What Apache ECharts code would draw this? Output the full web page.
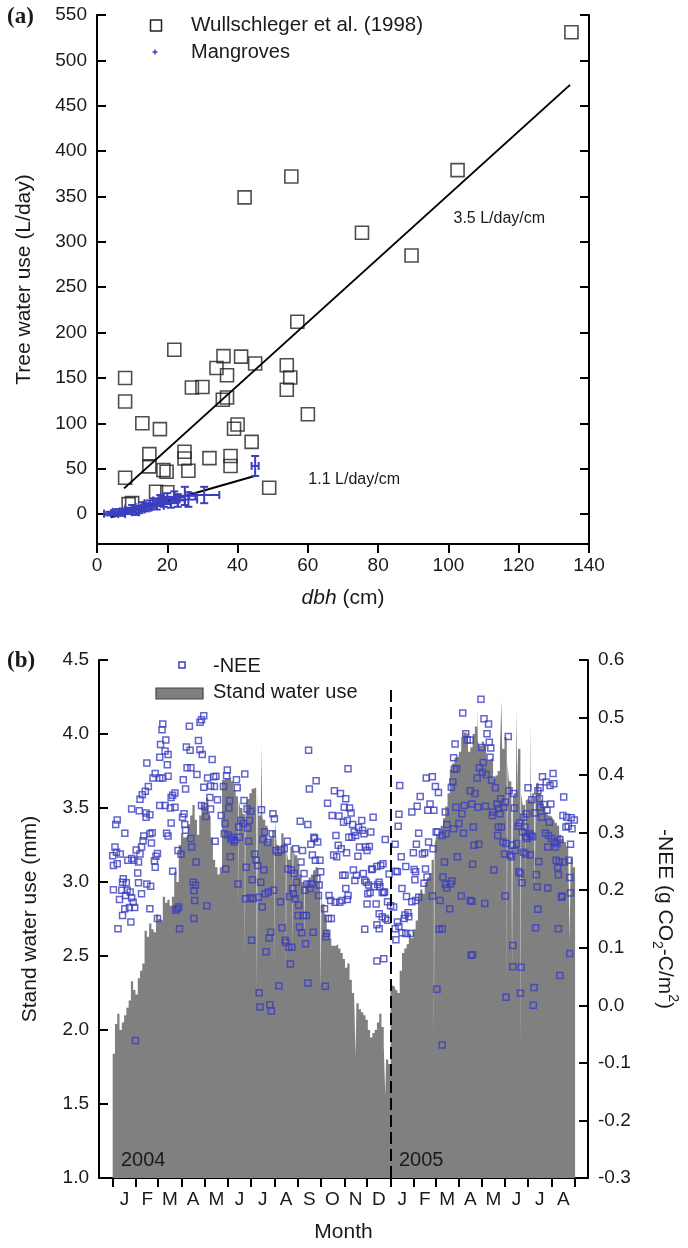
<!DOCTYPE html>
<html><head><meta charset="utf-8">
<script src="https://cdn.jsdelivr.net/npm/echarts@6/dist/echarts.min.js"></script>
<style>html,body{margin:0;padding:0;background:#fff}#c{width:688px;height:1248px}</style>
</head><body><div id="c"></div>
<script>
// ---------- Panel (a) data ----------
const wullschleger = [[135,531],[102.6,379],[75.4,310],[89.5,285],[55.3,372],[42,349],[57,212],[22,181],[36,174],[41,173.5],[34,161],[37,153],[45,166],[54,164],[55,150.5],[54,137],[8,150],[8,124],[12.9,100],[17.9,93.6],[27,139.5],[30,140],[35.8,126],[37,128.5],[40,98.7],[39,94],[44,79.6],[60,110],[49,29],[14.9,66],[14.9,52.5],[8,40],[18.9,48.4],[19.8,46.6],[24.9,68.6],[24.9,61.3],[26,47.7],[32,61.6],[38,64],[38,53],[16.8,24.6],[20,24],[9,11],[10,12]];
// [dbh, water use, dbh error, water-use error]
const mangroves = [[3.5,0.5,1.5,2],[5,1,1,2],[6,2.5,1.5,3],[7,0,1,2],[8,3,1.5,3],[9,4,1,3],[10,6,2,4],[11,2,1,3],[12,5,1.5,4],[13,8,2,5],[14,7,1.5,4],[15,10,2,5],[16,12,2.5,5],[17,9,2,4],[18,15,2,6],[19,13,2,5],[20,17,2.5,6],[21,12,2,5],[22,19,3,6],[23,15,2,7],[25,20,3,10],[26,16,2.5,8],[30.5,21,4.3,9],[45,53,1,11]];
const fitWull = [[7.7,28.3],[134.6,473]];
const fitMang = [[3.9,-3.6],[45.1,42.2]];
const ticksA = [0,50,100,150,200,250,300,350,400,450,500,550];

// ---------- Panel (b) data ----------
const monthStarts = [0,31,60,91,121,152,182,213,244,274,305,335,366,397,425,456,486,517,547,578,609];
const monthLetters = ['J','F','M','A','M','J','J','A','S','O','N','D','J','F','M','A','M','J','J','A'];
// stand water use (mm), one value per 3 days starting 1 Jan 2004 (day 0)
const swuStep = 3;
const swuValues = [
1.84,2.04,2.11,2.0,2.05,2.1,2.15,2.2,2.33,2.27,2.24,2.35,2.4,2.45,2.67,2.63,2.72,2.68,2.66,2.78,
2.75,2.74,2.9,2.86,2.88,2.84,2.9,3.07,3.0,3.25,3.33,3.3,3.31,3.39,3.45,3.52,3.42,3.32,3.45,3.52,
3.51,3.57,3.45,3.3,3.15,3.1,3.05,3.1,
3.69,3.7,3.7,3.71,3.68,3.62,3.58,3.55,3.5,3.46,3.5,3.56,3.6,3.63,3.64,3.6,3.45,3.45,3.42,3.38,
3.28,3.3,3.35,3.42,3.25,3.2,3.33,3.26,3.22,3.15,3.24,3.22,3.18,3.12,3.05,3.0,2.99,3.01,3.03,3.05,
3.08,3.1,3.0,2.94,2.85,2.78,2.68,2.62,2.57,2.57,2.58,2.55,2.52,2.48,2.42,
2.45,2.34,2.25,2.22,2.18,2.14,2.12,2.1,2.07,2.0,1.95,1.98,2.0,2.05,2.11,2.02,1.9,1.8,1.77,2.3,
2.29,2.27,2.25,2.4,2.52,2.55,2.58,2.65,2.62,2.68,2.74,2.92,2.95,2.92,3.0,3.03,3.06,3.15,3.25,3.31,
3.31,3.38,3.43,3.51,3.6,3.76,3.8,3.84,3.85,3.88,3.98,4.01,4.0,3.88,
3.91,4.0,4.05,3.95,3.92,3.95,3.93,3.82,3.83,3.84,3.7,3.72,3.75,3.9,3.9,3.98,3.8,3.68,3.56,3.6,
3.6,3.9,3.6,3.52,3.55,3.56,3.55,3.6,3.62,3.67,3.6,3.55,3.51,3.47,3.45,3.44,3.42,3.4,3.38,3.32,
3.29,3.27,3.24,3.2,3.16,3.1];
// single days that stand out (tall spikes / white dips): [day, mm]
const swuSingleDays = [[196,3.92],[480,4.18],[512,4.23],[532,4.18],[550,4.09],
[165,2.8],[174,2.45],[190,2.29],[213,2.4],[228,2.38],[237,2.5],[252,2.58],[274,2.29],[320,1.82],[359,1.55],[423,1.91],
[519,2.29],[526,2.4],[537,1.83],[543,3.0],[556,2.9],[602,2.6]];
const swuLastDay = 609;
// year boundary (dashed line): day, and its extent in mm on the left axis
const yearBoundary = { day: 366, from: 1.0, to: 4.33 };
// -NEE (g CO2-C/m2): [day since 1 Jan 2004, value]
const neePoints = [
[120,.503],[117,.496],[115,.492],[66,.489],[65,.479],[101,.485],[70,.461],[63,.453],[113,.460],[97,.449],[102,.443],[115,.444],[118,.436],[62,.431],[73,.436],[69,.442],[131,.427],[45,.421],[72,.418],[98,.413],[103,.413],[111,.401],[56,.403],[53,.395],[62,.395],[66,.395],[73,.398],[93,.392],[125,.395],[133,.397],[136,.398],[47,.380],[96,.376],[120,.379],[129,.381],[134,.380],[43,.372],[39,.366],[79,.365],[82,.369],[77,.361],[128,.361],[138,.357],[36,.358],[25,.341],[35,.338],[44,.334],[49,.331],[62,.347],[69,.347],[76,.343],[82,.344],[117,.347],[121,.345],[129,.341],[44,.327],[94,.333],[92,.327],[6,.322],[4,.314],[77,.317],[95,.314],[123,.328],[52,.300],[49,.298],[41,.294],[71,.299],[73,.294],[96,.304],[16,.299],[40,.286],[51,.282],[38,.275],[3,.275],[5,.266],[10,.263],[0,.260],[1,.243],[6,.246],[31,.270],[36,.263],[25,.255],[28,.252],[20,.252],[34,.249],[86,.269],[90,.263],[104,.275],[103,.290],[59,.264],[57,.259],[55,.251],[56,.240],[135,.285],[110,.249],[33,.230],[79,.233],[14,.220],[13,.214],[18,.213],[34,.213],[45,.211],[50,.207],[1,.201],[12,.200],[19,.200],[23,.197],[38,.194],[106,.214],[109,.209],[107,.199],[9,.184],[17,.191],[25,.187],[27,.179],[29,.170],[22,.170],[16,.168],[108,.182],[49,.168],[87,.171],[85,.168],[83,.165],[124,.173],[13,.156],[59,.151],[107,.151],[24,.145],[7,.133],[88,.133],[30,-.061],
[258,.443],[151,.409],[150,.399],[174,.402],[163,.392],[164,.378],[268,.390],[259,.376],[292,.373],[300,.368],[283,.351],[305,.344],[146,.380],[154,.356],[153,.343],[143,.330],[148,.316],[173,.356],[177,.341],[182,.337],[196,.340],[211,.333],[213,.324],[247,.320],[257,.314],[289,.330],[298,.329],[304,.318],[169,.321],[166,.310],[172,.316],[180,.321],[178,.308],[147,.298],[152,.296],[157,.292],[161,.287],[156,.288],[160,.284],[167,.292],[179,.285],[200,.301],[210,.298],[204,.283],[198,.288],[215,.269],[218,.266],[222,.270],[226,.272],[230,.285],[241,.272],[250,.269],[265,.292],[270,.284],[261,.280],[266,.290],[294,.295],[297,.278],[301,.272],[295,.258],[291,.261],[155,.258],[149,.237],[187,.263],[189,.252],[191,.243],[199,.235],[248,.249],[263,.261],[267,.252],[273,.252],[176,.240],[165,.211],[184,.218],[195,.214],[212,.200],[205,.197],[201,.194],[235,.235],[239,.229],[242,.214],[237,.203],[231,.237],[252,.229],[256,.211],[262,.211],[272,.209],[274,.232],[269,.220],[303,.226],[175,.185],[181,.187],[185,.185],[192,.188],[197,.171],[221,.180],[233,.189],[238,.194],[240,.185],[245,.174],[244,.156],[251,.156],[255,.156],[253,.200],[260,.203],[271,.191],[285,.191],[287,.182],[293,.179],[299,.179],[302,.182],[279,.168],[284,.151],[288,.151],[282,.125],[281,.119],[183,.113],[208,.127],[206,.117],[202,.093],[223,.135],[227,.113],[228,.109],[232,.101],[236,.101],[246,.136],[249,.126],[254,.107],[264,.127],[234,.072],[193,.022],[219,.034],[257,.039],[280,.033],[194,-.003],[207,.001],[209,-.010],
[461,.508],[465,.472],[467,.461],[451,.454],[449,.430],[453,.411],[450,.410],[310,.411],[413,.395],[421,.397],[425,.380],[429,.370],[448,.388],[446,.379],[378,.382],[405,.363],[401,.346],[394,.336],[418,.350],[415,.339],[423,.339],[307,.359],[312,.343],[314,.334],[309,.321],[316,.314],[318,.301],[315,.292],[311,.292],[328,.321],[324,.309],[343,.327],[377,.332],[376,.311],[372,.280],[329,.304],[331,.298],[338,.276],[335,.269],[340,.301],[320,.295],[438,.336],[452,.344],[463,.347],[460,.333],[456,.316],[462,.299],[449,.307],[440,.314],[434,.295],[439,.298],[426,.301],[428,.301],[403,.299],[400,.280],[416,.284],[422,.272],[396,.265],[408,.263],[411,.265],[359,.288],[356,.246],[353,.243],[348,.241],[342,.237],[341,.236],[308,.265],[325,.275],[323,.259],[333,.275],[380,.258],[386,.241],[397,.236],[399,.232],[412,.237],[414,.223],[317,.235],[321,.226],[332,.217],[334,.214],[337,.209],[344,.206],[349,.210],[352,.206],[355,.196],[364,.228],[373,.233],[375,.232],[306,.226],[309,.184],[319,.217],[330,.229],[336,.194],[339,.196],[351,.214],[357,.196],[358,.197],[362,.180],[366,.173],[370,.171],[381,.203],[387,.189],[398,.218],[410,.212],[399,.182],[394,.180],[403,.188],[421,.190],[431,.182],[435,.223],[438,.210],[440,.204],[445,.211],[447,.216],[459,.190],[471,.182],[335,.176],[347,.176],[351,.159],[355,.154],[359,.151],[362,.148],[385,.157],[390,.154],[389,.161],[384,.151],[381,.126],[386,.125],[392,.125],[375,.145],[372,.133],[373,.114],[377,.137],[348,.140],[351,.133],[332,.132],[444,.168],[454,.258],[437,.249],[434,.133],[430,.132],[472,.087],[348,.077],[357,.081],[427,.028],[434,-.069],[310,.191],[307,.203],
[485,.532],[489,.498],[495,.489],[521,.467],[493,.472],[496,.457],[486,.448],[498,.447],[497,.431],[488,.422],[483,.413],[487,.405],[492,.401],[480,.395],[499,.391],[504,.378],[471,.461],[580,.403],[566,.397],[571,.388],[563,.378],[576,.382],[581,.385],[547,.378],[560,.373],[522,.373],[528,.368],[511,.359],[552,.357],[594,.362],[562,.359],[471,.373],[477,.368],[473,.350],[481,.344],[491,.346],[506,.350],[508,.342],[515,.344],[517,.353],[529,.343],[501,.336],[500,.330],[510,.333],[568,.349],[577,.350],[563,.344],[572,.339],[556,.334],[565,.327],[575,.318],[541,.327],[545,.333],[536,.317],[543,.310],[540,.301],[549,.298],[551,.295],[544,.293],[546,.290],[553,.293],[593,.330],[598,.327],[604,.326],[608,.322],[597,.310],[600,.311],[605,.307],[475,.310],[508,.310],[512,.310],[507,.295],[514,.284],[518,.281],[516,.263],[523,.261],[534,.311],[532,.281],[530,.269],[526,.278],[525,.258],[541,.266],[544,.263],[550,.261],[570,.299],[574,.295],[578,.290],[582,.284],[585,.281],[589,.288],[583,.275],[573,.275],[561,.250],[584,.252],[588,.249],[595,.249],[601,.252],[603,.280],[476,.278],[482,.280],[474,.245],[502,.235],[535,.232],[537,.229],[539,.213],[586,.240],[587,.227],[602,.222],[558,.227],[559,.206],[573,.204],[517,.190],[591,.188],[592,.190],[603,.195],[473,.181],[490,.177],[560,.167],[557,.135],[587,.133],[474,.088],[527,.104],[602,.090],[527,.067],[538,.066],[589,.052],[518,.014],[537,.021],[555,.031],[554,.000]
];

// ---------- build ----------
const FONT = 'Liberation Sans, Arial, sans-serif';
const BLUE = '#3b3fbf';
const GRAY = '#808080';
const INK = '#1a1a1a';

const monthMids = monthStarts.slice(0, -1).map((s, i) => (s + monthStarts[i + 1]) / 2);
const singleMap = {};
swuSingleDays.forEach(d => { singleMap[d[0]] = d[1]; });
const swuSeries = [];
for (let d = 0; d < swuLastDay; d++) {
  const v = singleMap[d] !== undefined ? singleMap[d] : swuValues[Math.min(Math.floor(d / swuStep), swuValues.length - 1)];
  swuSeries.push([d, v]);
}
swuSeries.push([swuLastDay, swuValues[swuValues.length - 1]]);

const axisLine = { show: true, onZero: false, lineStyle: { color: '#000', width: 2 } };
const lab = { fontSize: 19, color: INK, fontFamily: FONT };

const chart = echarts.init(document.getElementById('c'));
chart.setOption({
  animation: false,
  backgroundColor: '#fff',
  grid: [
    { left: 97, top: 15, width: 492, height: 529 },
    { left: 99, top: 660, width: 491, height: 518 }
  ],
  xAxis: [
    { gridIndex: 0, type: 'value', min: 0, max: 140, interval: 20,
      axisLine, axisTick: { length: 9, lineStyle: { width: 2, color: '#000' } },
      axisLabel: Object.assign({ margin: 12 }, lab), splitLine: { show: false },
      name: '{i|dbh} (cm)', nameLocation: 'middle', nameGap: 44,
      nameTextStyle: { fontSize: 21, color: INK, fontFamily: FONT,
        rich: { i: { fontStyle: 'italic', fontSize: 21, color: INK, fontFamily: FONT } } } },
    { gridIndex: 1, type: 'value', min: -18, max: 626,
      axisLine, axisTick: { length: 9, customValues: monthStarts, lineStyle: { width: 2, color: '#000' } },
      axisLabel: Object.assign({ margin: 12, customValues: monthMids,
        formatter: v => { const i = monthMids.findIndex(m => Math.abs(m - v) < 0.01); return i >= 0 ? monthLetters[i] : ''; } }, lab),
      splitLine: { show: false },
      name: 'Month', nameLocation: 'middle', nameGap: 44,
      nameTextStyle: { fontSize: 21, color: INK, fontFamily: FONT } }
  ],
  yAxis: [
    { gridIndex: 0, type: 'value', min: -33, max: 550,
      axisLine, axisTick: { inside: true, length: 9, customValues: ticksA, lineStyle: { width: 2, color: '#000' } },
      axisLabel: Object.assign({ margin: 10, customValues: ticksA }, lab), splitLine: { show: false },
      name: 'Tree water use (L/day)', nameLocation: 'middle', nameGap: 62,
      nameTextStyle: { fontSize: 21, color: INK, fontFamily: FONT } },
    { gridIndex: 0, type: 'value', position: 'right', min: -33, max: 550,
      axisLine, axisTick: { inside: true, length: 9, customValues: ticksA, lineStyle: { width: 2, color: '#000' } },
      axisLabel: { show: false }, splitLine: { show: false } },
    { gridIndex: 1, type: 'value', min: 1, max: 4.5, interval: 0.5,
      axisLine, axisTick: { inside: true, length: 9, lineStyle: { width: 2, color: '#000' } },
      axisLabel: Object.assign({ margin: 10, formatter: v => v.toFixed(1) }, lab), splitLine: { show: false },
      name: 'Stand water use (mm)', nameLocation: 'middle', nameGap: 58,
      nameTextStyle: { fontSize: 21, color: INK, fontFamily: FONT } },
    { gridIndex: 1, type: 'value', position: 'right', min: -0.3, max: 0.6, interval: 0.1,
      axisLine, axisTick: { inside: true, length: 9, lineStyle: { width: 2, color: '#000' } },
      axisLabel: Object.assign({ margin: 10, formatter: v => v.toFixed(1) }, lab), splitLine: { show: false },
      name: '{n|-NEE (g CO}{sub|2}{n|-C/m}{sup|2}{n|)}', nameLocation: 'middle', nameGap: 62, nameRotate: -90,
      nameTextStyle: { fontSize: 21, color: INK, fontFamily: FONT,
        rich: {
          n: { fontSize: 21, color: INK, fontFamily: FONT, lineHeight: 30, verticalAlign: 'middle' },
          sub: { fontSize: 14, color: INK, fontFamily: FONT, lineHeight: 14, verticalAlign: 'bottom' },
          sup: { fontSize: 14, color: INK, fontFamily: FONT, lineHeight: 14, verticalAlign: 'top' }
        } } }
  ],
  series: [
    { type: 'line', xAxisIndex: 0, yAxisIndex: 0, data: fitWull, symbol: 'none',
      lineStyle: { color: '#000', width: 2 }, z: 3,
      markPoint: { symbol: 'circle', symbolSize: 1, itemStyle: { color: 'rgba(0,0,0,0)' },
        label: { show: true, position: 'right', distance: 0, formatter: '3.5 L/day/cm', fontSize: 16, color: INK, fontFamily: FONT },
        data: [{ coord: [101.3, 326] }] } },
    { type: 'line', xAxisIndex: 0, yAxisIndex: 0, data: fitMang, symbol: 'none',
      lineStyle: { color: '#000', width: 2 }, z: 4,
      markPoint: { symbol: 'circle', symbolSize: 1, itemStyle: { color: 'rgba(0,0,0,0)' },
        label: { show: true, position: 'right', distance: 0, formatter: '1.1 L/day/cm', fontSize: 16, color: INK, fontFamily: FONT },
        data: [{ coord: [60, 37.8] }] } },
    { type: 'scatter', xAxisIndex: 0, yAxisIndex: 0, data: wullschleger, symbol: 'rect', symbolSize: 13,
      itemStyle: { color: 'rgba(255,255,255,0)', borderColor: '#222', borderWidth: 1.6 }, z: 2 },
    { type: 'custom', xAxisIndex: 0, yAxisIndex: 0, data: mangroves, encode: { x: 0, y: 1 }, z: 5,
      renderItem: (params, api) => {
        const x = api.value(0), y = api.value(1), ex = api.value(2), ey = api.value(3);
        const c = api.coord([x, y]), l = api.coord([x - ex, y]), r = api.coord([x + ex, y]);
        const t = api.coord([x, y + ey]), b = api.coord([x, y - ey]);
        const cap = 4, st = { stroke: BLUE, lineWidth: 2 };
        const ln = (x1, y1, x2, y2) => ({ type: 'line', shape: { x1, y1, x2, y2 }, style: st });
        return { type: 'group', children: [
          ln(l[0], c[1], r[0], c[1]), ln(l[0], c[1] - cap, l[0], c[1] + cap), ln(r[0], c[1] - cap, r[0], c[1] + cap),
          ln(c[0], t[1], c[0], b[1]), ln(c[0] - cap, t[1], c[0] + cap, t[1]), ln(c[0] - cap, b[1], c[0] + cap, b[1])
        ] };
      } },
    { type: 'line', xAxisIndex: 1, yAxisIndex: 2, data: swuSeries, step: 'end', symbol: 'none',
      lineStyle: { width: 0, color: GRAY }, areaStyle: { color: GRAY, opacity: 1, origin: 'start' }, z: 1,
      markLine: { silent: true, symbol: ['none', 'none'], label: { show: false },
        lineStyle: { color: '#000', width: 2, type: [12, 5] },
        data: [[{ coord: [yearBoundary.day, yearBoundary.from] }, { coord: [yearBoundary.day, yearBoundary.to] }]] } },
    { type: 'scatter', xAxisIndex: 1, yAxisIndex: 3, data: neePoints, symbol: 'rect', symbolSize: 6,
      itemStyle: { color: 'rgba(255,255,255,0)', borderColor: BLUE, borderWidth: 1.5 }, z: 3 }
  ],
  graphic: [
    { type: 'text', left: 7, top: 6, style: { text: '(a)', fontSize: 23, fontWeight: 'bold', fontFamily: 'Liberation Serif, Times New Roman, serif', fill: INK } },
    { type: 'rect', shape: { x: 150.5, y: 20, width: 11, height: 11 }, style: { fill: 'none', stroke: '#222', lineWidth: 1.5 } },
    { type: 'text', x: 191, y: 25.5, style: { text: 'Wullschleger et al. (1998)', fontSize: 20.5, fontFamily: FONT, fill: INK, verticalAlign: 'middle' } },
    { type: 'line', shape: { x1: 152.5, y1: 52, x2: 157.5, y2: 52 }, style: { stroke: BLUE, lineWidth: 1.5 } },
    { type: 'line', shape: { x1: 155, y1: 49.5, x2: 155, y2: 54.5 }, style: { stroke: BLUE, lineWidth: 1.5 } },
    { type: 'text', x: 191, y: 52, style: { text: 'Mangroves', fontSize: 20, fontFamily: FONT, fill: INK, verticalAlign: 'middle' } },
    { type: 'text', left: 7, top: 650, style: { text: '(b)', fontSize: 23, fontWeight: 'bold', fontFamily: 'Liberation Serif, Times New Roman, serif', fill: INK } },
    { type: 'rect', shape: { x: 179, y: 662, width: 6, height: 6 }, style: { fill: 'none', stroke: BLUE, lineWidth: 1.5 } },
    { type: 'text', x: 213, y: 666, style: { text: '-NEE', fontSize: 20, fontFamily: FONT, fill: INK, verticalAlign: 'middle' } },
    { type: 'rect', shape: { x: 156, y: 688, width: 47, height: 11 }, style: { fill: GRAY, stroke: '#444', lineWidth: 1.2 } },
    { type: 'text', x: 213, y: 692, style: { text: 'Stand water use', fontSize: 20, fontFamily: FONT, fill: INK, verticalAlign: 'middle' } },
    { type: 'text', x: 121, y: 1160, z: 100, style: { text: '2004', fontSize: 20, fontFamily: FONT, fill: INK, verticalAlign: 'middle' } },
    { type: 'text', x: 399, y: 1160, z: 100, style: { text: '2005', fontSize: 20, fontFamily: FONT, fill: INK, verticalAlign: 'middle' } }
  ]
});
</script></body></html>
